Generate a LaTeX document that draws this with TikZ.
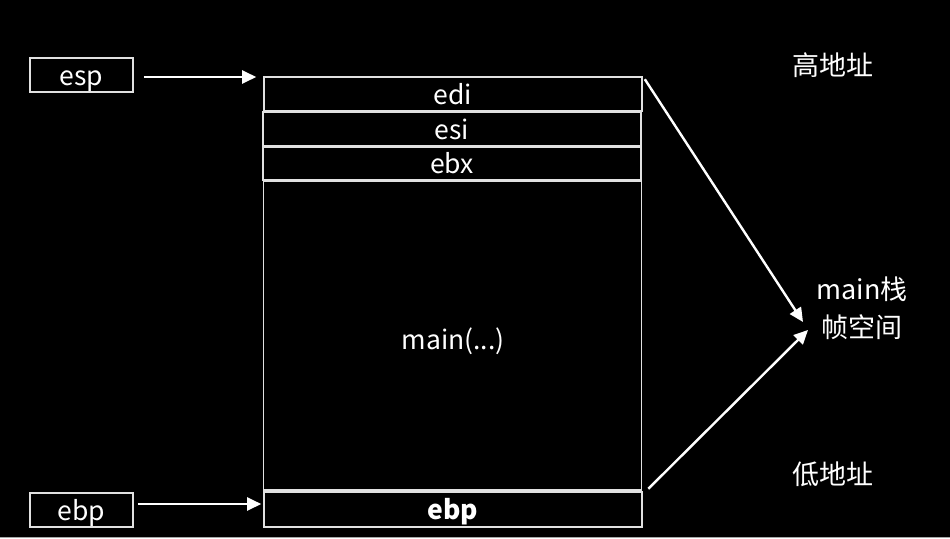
\documentclass[tikz,border=0pt]{standalone}
\usepackage{fontspec}
\setmainfont{Noto Sans CJK SC}
\usetikzlibrary{arrows.meta}
\definecolor{boxline}{RGB}{225,225,225}
\tikzset{
  latin/.style={font=\fontsize{26.5}{30}\selectfont, text height=25pt, text depth=5pt},
  cell/.style={draw=boxline, line width=1.6pt, minimum width=378pt, inner sep=0pt, text=white, latin},
  tag/.style={draw=boxline, line width=1.6pt, minimum width=103pt, minimum height=34pt, inner sep=0pt, text=white, latin},
  lbl/.style={text=white, inner sep=0pt, font=\fontsize{27}{32}\selectfont},
  arr/.style={draw=white, line width=2.4pt, -{Triangle[length=14pt,width=13pt]}},
}
\begin{document}
\begin{tikzpicture}[x=1pt,y=-1pt]
\fill[black] (0,0) rectangle (950,538);
\useasboundingbox (0,0) rectangle (950,538);
\draw[gray!70, line width=1pt] (0,537.5) -- (950,537.5);

\node[cell, minimum height=34pt] (edi) at (453,94) {edi};
\node[cell, minimum height=34pt] (esi) at (452,129) {esi};
\node[cell, minimum height=33pt] (ebx) at (452,163.5) {ebx};
\node[cell, minimum height=309pt] (main) at (452.5,335.5) {};
\node[text=white, inner sep=0pt, latin] (maintxt) at (453,339) {main(...)};
\node[cell, minimum height=35pt, font=\fontsize{26.5}{30}\selectfont\bfseries] (ebps) at (453,509.5) {ebp};

\node[tag] (esp) at (81.5,75) {esp};
\node[tag] (ebpl) at (81.5,510) {ebp};

\node[lbl] (hi) at (833,65) {高地址};
\node[lbl] (frame1) at (862,289) {main栈};
\node[lbl] (frame2) at (862,327) {帧空间};
\node[lbl] (lo) at (833,474) {低地址};

\coordinate (t1) at (803,322);
\coordinate (t2) at (808,330);

\draw[arr] ([xshift=10pt,yshift=-2pt]esp.east) -- ([xshift=-7pt,yshift=-2pt]esp.east -| edi.west);
\draw[arr] ([xshift=4pt,yshift=6pt]ebpl.east) -- ([xshift=-2pt,yshift=6pt]ebpl.east -| ebps.west);
\draw[arr] ([xshift=2pt,yshift=-3pt]edi.north east) -- (t1);
\draw[arr] ([xshift=6pt,yshift=2pt]main.south east) -- (t2);
\end{tikzpicture}
\end{document}
